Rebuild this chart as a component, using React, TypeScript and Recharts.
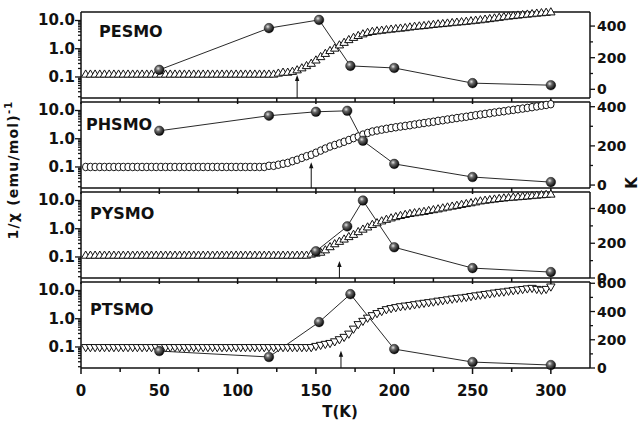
import { ComposedChart, Line, XAxis, YAxis, ReferenceLine } from "recharts"

// temperature grid of the 1/chi scans (K)
const temps = [
  3, 6, 9, 12, 15, 18, 21, 24, 27, 30,
  33, 36, 39, 42, 45, 48, 51, 54, 57, 60,
  63, 66, 69, 72, 75, 78, 81, 84, 87, 90,
  93, 96, 99, 102, 105, 108, 111, 114, 117, 120,
  123, 126, 129, 132, 135, 138, 141, 144, 147, 150,
  153, 156, 159, 162, 165, 168, 171, 174, 177, 180,
  183, 186, 189, 192, 195, 198, 201, 204, 207, 210,
  213, 216, 219, 222, 225, 228, 231, 234, 237, 240,
  243, 246, 249, 252, 255, 258, 261, 264, 267, 270,
  273, 276, 279, 282, 285, 288, 291, 294, 297, 300,
]

// 1/chi (emu/mol)^-1
const pesmoInv = [
  0.12, 0.12, 0.12, 0.12, 0.12, 0.12, 0.12, 0.12, 0.12, 0.12,
  0.12, 0.12, 0.12, 0.12, 0.12, 0.12, 0.12, 0.12, 0.12, 0.12,
  0.12, 0.12, 0.12, 0.12, 0.12, 0.12, 0.12, 0.12, 0.12, 0.12,
  0.12, 0.12, 0.12, 0.12, 0.12, 0.12, 0.12, 0.12, 0.12, 0.12,
  0.12, 0.13, 0.14, 0.14, 0.15, 0.17, 0.2, 0.24, 0.29, 0.38,
  0.5, 0.65, 0.82, 1.0, 1.3, 1.6, 2.0, 2.4, 2.8, 3.2,
  3.6, 3.9, 4.1, 4.3, 4.5, 4.7, 4.9, 5.1, 5.3, 5.6,
  5.9, 6.1, 6.3, 6.6, 6.9, 7.2, 7.4, 7.7, 8.0, 8.3,
  8.6, 8.9, 9.3, 9.7, 10.1, 10.6, 11.1, 11.7, 12.3, 13.0,
  13.6, 14.2, 14.8, 15.4, 16.0, 16.6, 17.3, 17.9, 18.5, 19.2,
]
const phsmoInv = [
  0.1, 0.1, 0.1, 0.1, 0.1, 0.1, 0.1, 0.1, 0.1, 0.1,
  0.1, 0.1, 0.1, 0.1, 0.1, 0.1, 0.1, 0.1, 0.1, 0.1,
  0.1, 0.1, 0.1, 0.1, 0.1, 0.1, 0.1, 0.1, 0.1, 0.1,
  0.1, 0.1, 0.1, 0.1, 0.1, 0.1, 0.1, 0.1, 0.1, 0.11,
  0.11, 0.12, 0.13, 0.14, 0.16, 0.18, 0.21, 0.24, 0.27, 0.32,
  0.38, 0.45, 0.53, 0.6, 0.68, 0.78, 0.9, 1.05, 1.2, 1.4,
  1.6, 1.8, 1.95, 2.1, 2.25, 2.4, 2.55, 2.7, 2.85, 3.0,
  3.2, 3.4, 3.6, 3.8, 4.0, 4.3, 4.5, 4.8, 5.1, 5.4,
  5.7, 6.0, 6.4, 6.8, 7.2, 7.6, 8.0, 8.5, 9.0, 9.4,
  10.0, 10.5, 11.1, 11.7, 12.4, 13.1, 13.9, 14.8, 15.7, 16.7,
]
const pysmoInv = [
  0.11, 0.11, 0.11, 0.11, 0.11, 0.11, 0.11, 0.11, 0.11, 0.11,
  0.11, 0.11, 0.11, 0.11, 0.11, 0.11, 0.11, 0.11, 0.11, 0.11,
  0.11, 0.11, 0.11, 0.11, 0.11, 0.11, 0.11, 0.11, 0.11, 0.11,
  0.11, 0.11, 0.11, 0.11, 0.11, 0.11, 0.11, 0.11, 0.11, 0.11,
  0.11, 0.11, 0.11, 0.11, 0.11, 0.11, 0.11, 0.11, 0.12, 0.13,
  0.14, 0.17, 0.22, 0.28, 0.34, 0.41, 0.5, 0.6, 0.75, 0.92,
  1.1, 1.35, 1.55, 1.8, 2.05, 2.3, 2.55, 2.8, 3.05, 3.3,
  3.5, 3.7, 3.9, 4.2, 4.5, 4.8, 5.2, 5.6, 6.0, 6.4,
  6.9, 7.4, 7.9, 8.5, 9.2, 9.7, 10.2, 10.7, 11.2, 11.7,
  12.1, 12.5, 12.9, 13.3, 13.7, 14.2, 14.7, 15.2, 15.6, 16.0,
]
const ptsmoInv = [
  0.1, 0.1, 0.1, 0.1, 0.1, 0.1, 0.1, 0.1, 0.1, 0.1,
  0.1, 0.1, 0.1, 0.1, 0.1, 0.1, 0.1, 0.1, 0.1, 0.1,
  0.1, 0.1, 0.1, 0.1, 0.1, 0.1, 0.1, 0.1, 0.1, 0.1,
  0.1, 0.1, 0.1, 0.1, 0.1, 0.1, 0.1, 0.1, 0.1, 0.1,
  0.1, 0.1, 0.1, 0.1, 0.1, 0.1, 0.1, 0.1, 0.1, 0.11,
  0.12, 0.13, 0.14, 0.16, 0.19, 0.23, 0.3, 0.45, 0.65, 0.85,
  1.1, 1.35, 1.6, 1.9, 2.2, 2.4, 2.6, 2.8, 2.95, 3.1,
  3.3, 3.5, 3.7, 3.9, 4.1, 4.4, 4.6, 4.9, 5.2, 5.5,
  5.7, 6.0, 6.4, 6.8, 7.2, 7.6, 8.0, 8.5, 9.0, 9.3,
  9.9, 10.4, 10.9, 11.4, 12.0, 12.5, 11.5, 10.8, 11.5, 14.0,
]

// filled spheres, right axis (K)
const pesmoKT = [50, 120, 152, 172, 200, 250, 300]
const pesmoK = [123, 387, 439, 148, 135, 39, 26]
const phsmoKT = [50, 120, 150, 170, 180, 200, 250, 300]
const phsmoK = [277, 354, 374, 379, 226, 108, 41, 15]
const pysmoKT = [150, 170, 180, 200, 250, 300]
const pysmoK = [154, 297, 446, 177, 57, 34]
const ptsmoKT = [50, 120, 152, 172, 200, 250, 300]
const ptsmoK = [120, 78, 325, 523, 134, 42, 21]

const sampleNames = ["PESMO", "PHSMO", "PYSMO", "PTSMO"]
const tcArrowT = [138, 147, 165, 166]
const tcArrowTip = [0.118, 0.147, 0.072, 0.074]

const xTicks = [0, 25, 50, 75, 100, 125, 150, 175, 200, 225, 250, 275, 300]
const logTicks = [
  0.02, 0.03, 0.04, 0.05, 0.06, 0.07, 0.08, 0.09, 0.1,
  0.2, 0.3, 0.4, 0.5, 0.6, 0.7, 0.8, 0.9, 1,
  2, 3, 4, 5, 6, 7, 8, 9, 10,
]
const logMajor = [0.1, 1, 10]
const logLabels = ["0.1", "1.0", "10.0"]
const kTicksShort = [0, 100, 200, 300, 400]
const kTicksTall = [0, 100, 200, 300, 400, 500, 600]

const W = 642
const H = 421
const PLOT_LEFT = 81
const PLOT_RIGHT = 590
const LEFT_W = 50
const RIGHT_W = 45
const PANEL_H = 86
const INK = "#111"
const FONT = "'DejaVu Sans', sans-serif"

const renderXTick = (p: any, withLabel: boolean) => {
  const major = p.payload.value % 50 === 0
  return (
    <g>
      <line x1={p.x} x2={p.x} y1={p.y} y2={p.y + (major ? 6 : 4)} stroke={INK} strokeWidth={1.5} />
      {withLabel && major && (
        <text x={p.x} y={p.y + 28} textAnchor="middle" fontFamily={FONT} fontWeight="bold" fontSize={15} fill={INK}>
          {p.payload.value}
        </text>
      )}
    </g>
  )
}

const renderLogTick = (p: any) => {
  const idx = logMajor.indexOf(p.payload.value)
  const major = idx >= 0
  return (
    <g>
      <line x1={p.x - (major ? 6 : 3)} x2={p.x} y1={p.y} y2={p.y} stroke={INK} strokeWidth={1.3} />
      {major && (
        <text x={p.x - 6} y={p.y + 5} textAnchor="end" fontFamily={FONT} fontWeight="bold" fontSize={15} fill={INK}>
          {logLabels[idx]}
        </text>
      )}
    </g>
  )
}

const renderKTick = (p: any) => {
  const major = p.payload.value % 200 === 0
  return (
    <g>
      <line x1={p.x} x2={p.x + (major ? 5 : 3)} y1={p.y} y2={p.y} stroke={INK} strokeWidth={1.3} />
      {major && (
        <text x={p.x + 7} y={p.y + 5} textAnchor="start" fontFamily={FONT} fontWeight="bold" fontSize={14} fill={INK}>
          {p.payload.value}
        </text>
      )}
    </g>
  )
}

const TcArrow = (props: any) => {
  const { x1, y1, y2 } = props
  const tip = Math.min(y1, y2)
  const base = Math.max(y1, y2)
  return (
    <g>
      <line x1={x1} x2={x1} y1={base} y2={tip + 4} stroke={INK} strokeWidth={1} />
      <path d={`M${x1},${tip} L${x1 - 2.2},${tip + 6} L${x1 + 2.2},${tip + 6} Z`} fill={INK} />
    </g>
  )
}

const makeMarker = (kind: string) => (p: any) => {
  const { cx, cy, index } = p
  if (cx == null || cy == null) return <g key={`m-${index}`} />
  if (kind === "circle") {
    return <ellipse key={`m-${index}`} cx={cx} cy={cy} rx={3.2} ry={3.8} fill="#fff" stroke={INK} strokeWidth={1} />
  }
  const d =
    kind === "up"
      ? `M${cx},${cy - 4.8} L${cx - 4.2},${cy + 2.4} L${cx + 4.2},${cy + 2.4} Z`
      : `M${cx},${cy + 4.8} L${cx - 4.2},${cy - 2.4} L${cx + 4.2},${cy - 2.4} Z`
  return <path key={`m-${index}`} d={d} fill="#fff" stroke={INK} strokeWidth={1} />
}

const makeSphere = (gid: string) => (p: any) => {
  const { cx, cy, index } = p
  if (cx == null || cy == null) return <g key={`s-${index}`} />
  return <circle key={`s-${index}`} cx={cx} cy={cy} r={4.8} fill={`url(#${gid})`} stroke="#000" strokeWidth={0.4} />
}

interface PanelProps {
  index: number
  inv: number[]
  marker: string
  kT: number[]
  k: number[]
  kDomain: [number, number]
  kTicks: number[]
  top: number
  last: boolean
}

function Panel({ index, inv, marker, kT, k, kDomain, kTicks, top, last }: PanelProps) {
  const padTop = 8
  const padBottom = last ? 40 : 10
  const xAxisH = last ? 30 : 8
  const invRows = temps.map((t, i) => ({ t, v: inv[i] }))
  const kRows = kT.map((t, i) => ({ t, v: k[i] }))
  const gid = `sphere${index}`
  const frame = { stroke: INK, strokeWidth: 1.5 }

  return (
    <div style={{ position: "absolute", left: 0, top: top - padTop }}>
      <ComposedChart
        width={W}
        height={PANEL_H + padTop + padBottom}
        margin={{ top: padTop - 1, bottom: padBottom - xAxisH, left: PLOT_LEFT - LEFT_W, right: W - PLOT_RIGHT - RIGHT_W }}
      >
        <defs>
          <radialGradient id={gid} cx="38%" cy="35%" r="65%">
            <stop offset="0%" stopColor="#e6e6e6" />
            <stop offset="35%" stopColor="#6a6a6a" />
            <stop offset="100%" stopColor="#050505" />
          </radialGradient>
        </defs>
        <XAxis
          type="number"
          dataKey="t"
          domain={[0, 325]}
          ticks={xTicks}
          interval={0}
          height={xAxisH}
          tickSize={0}
          tickMargin={0}
          tickLine={false}
          axisLine={frame}
          tick={(p: any) => renderXTick(p, last)}
        />
        <XAxis
          xAxisId="top"
          orientation="top"
          type="number"
          domain={[0, 325]}
          height={1}
          tick={false}
          tickLine={false}
          axisLine={frame}
        />
        <YAxis
          yAxisId="left"
          scale="log"
          type="number"
          domain={[0.018, 20]}
          ticks={logTicks}
          interval={0}
          width={LEFT_W}
          tickSize={0}
          tickMargin={0}
          tickLine={false}
          axisLine={frame}
          tick={renderLogTick}
        />
        <YAxis
          yAxisId="right"
          orientation="right"
          type="number"
          domain={kDomain}
          ticks={kTicks}
          interval={0}
          width={RIGHT_W}
          tickSize={0}
          tickMargin={0}
          tickLine={false}
          axisLine={frame}
          tick={renderKTick}
        />
        <ReferenceLine
          yAxisId="left"
          segment={[
            { x: tcArrowT[index], y: 0.018 },
            { x: tcArrowT[index], y: tcArrowTip[index] },
          ]}
          shape={TcArrow}
        />
        <Line
          yAxisId="left"
          data={invRows}
          dataKey="v"
          stroke="none"
          dot={makeMarker(marker)}
          activeDot={false}
          isAnimationActive={false}
        />
        <Line
          yAxisId="right"
          data={kRows}
          dataKey="v"
          stroke={INK}
          strokeWidth={0.9}
          dot={makeSphere(gid)}
          activeDot={false}
          isAnimationActive={false}
        />
      </ComposedChart>
    </div>
  )
}

export default function App() {
  const labelStyle = { fontFamily: FONT, fontWeight: "bold" as const, fill: INK }
  return (
    <div style={{ position: "absolute", left: 0, top: 0, width: W, height: H, background: "#fff" }}>
      <Panel index={0} inv={pesmoInv} marker="up" kT={pesmoKT} k={pesmoK} kDomain={[-55, 489]} kTicks={kTicksShort} top={12} last={false} />
      <Panel index={1} inv={phsmoInv} marker="circle" kT={phsmoKT} k={phsmoK} kDomain={[-15, 424]} kTicks={kTicksShort} top={102} last={false} />
      <Panel index={2} inv={pysmoInv} marker="up" kT={pysmoKT} k={pysmoK} kDomain={[0, 495]} kTicks={kTicksShort} top={192} last={false} />
      <Panel index={3} inv={ptsmoInv} marker="down" kT={ptsmoKT} k={ptsmoK} kDomain={[0, 609]} kTicks={kTicksTall} top={282} last={true} />
      <svg width={W} height={H} style={{ position: "absolute", left: 0, top: 0, pointerEvents: "none" }}>
        <text x={99} y={37} fontSize={16} {...labelStyle}>{sampleNames[0]}</text>
        <text x={86} y={130} fontSize={16} {...labelStyle}>{sampleNames[1]}</text>
        <text x={90} y={219} fontSize={16} {...labelStyle}>{sampleNames[2]}</text>
        <text x={90} y={315} fontSize={16} {...labelStyle}>{sampleNames[3]}</text>
        <text x={340} y={417} fontSize={15} textAnchor="middle" {...labelStyle}>T(K)</text>
        <text transform="translate(18,170) rotate(-90)" fontSize={14} letterSpacing={1.2} textAnchor="middle" {...labelStyle}>
          1/χ (emu/mol)<tspan dy={-6} fontSize={10}>-1</tspan>
        </text>
        <text transform="translate(637,183) rotate(-90)" fontSize={15} textAnchor="middle" {...labelStyle}>K</text>
      </svg>
    </div>
  )
}
